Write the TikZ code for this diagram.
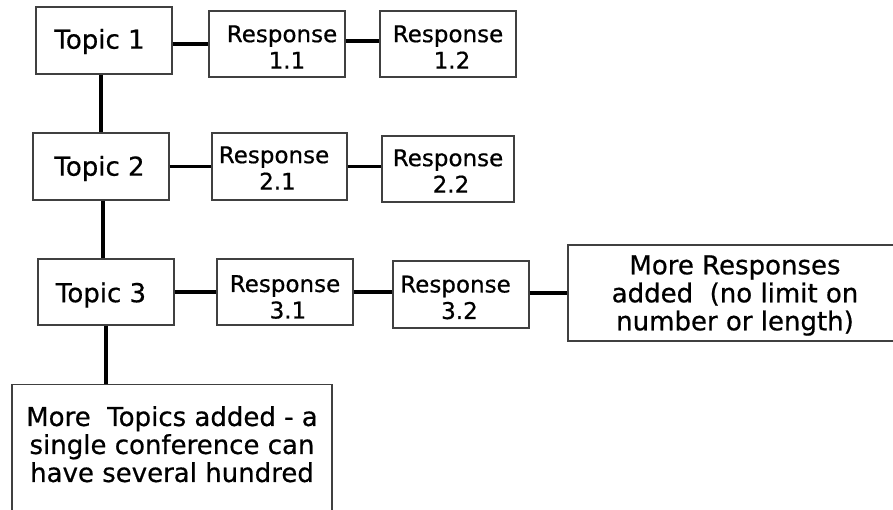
\documentclass[tikz,border=0pt]{standalone}
\usepackage{fontspec}
\setmainfont{DejaVu Sans}[FakeBold=0.6]
\begin{document}
\begin{tikzpicture}[x=1pt,y=-1pt,
  box/.style={draw=black!75, line width=1.2pt, inner sep=0pt},
  topic/.style={box, minimum width=136pt, minimum height=67pt},
  resp/.style={box, minimum width=136pt, minimum height=66pt},
  tf/.style={align=center, inner sep=0pt, font=\fontsize{26}{30}\selectfont},
  rf/.style={align=center, inner sep=0pt, font=\fontsize{23}{26.5}\selectfont},
  bf/.style={align=center, inner sep=0pt, font=\fontsize{26}{28}\selectfont},
  link/.style={line width=3.4pt, black}]
\clip (0,0) rectangle (893,510);
\fill[white] (0,0) rectangle (893,510);
\node[topic, label={[tf, yshift=-1pt]center:{Topic 1\hspace*{9pt}}}] (t1) at (104,40.5) {};
\node[resp, label={[rf, yshift=-3pt]center:{\hspace*{10pt}Response\\\hspace*{20pt}1.1}}] (r11) at (277,44) {};
\node[resp, label={[rf, yshift=-3pt]center:{Response\\\hspace*{8pt}1.2}}] (r12) at (448,44) {};
\node[topic, label={[tf, yshift=-2pt]center:{Topic 2\hspace*{3pt}}}] (t2) at (101,166.5) {};
\node[resp, minimum width=135pt, minimum height=67pt, label={[rf, yshift=-1.5pt]center:{Response\hspace*{11pt}\\2.1\hspace*{4pt}}}] (r21) at (279.5,166.5) {};
\node[resp, minimum width=132pt, label={[rf, yshift=-2pt]center:{Response\\\hspace*{6pt}2.2}}] (r22) at (448,169) {};
\node[topic, minimum height=66pt, label={[tf, yshift=-3pt]center:{Topic 3\hspace*{10pt}}}] (t3) at (106,292) {};
\node[resp, label={[rf, yshift=-5pt]center:{Response\\\hspace*{6pt}3.1}}] (r31) at (285,292) {};
\node[resp, minimum height=67pt, label={[rf, yshift=-3pt]center:{Response\hspace*{11pt}\\3.2\hspace*{3pt}}}] (r32) at (461,294.5) {};
\node[box, minimum width=334pt, minimum height=96pt,
  label={[bf, yshift=-2.5pt]center:{More Responses\\added\ \ (no limit on\\number or length)}}] (mr) at (735,293) {};
\node[box, anchor=north, minimum width=320pt, minimum height=160pt,
  label={[bf, anchor=north, yshift=-22pt]north:{More\ \ Topics added - a\\single conference can\\have several hundred}}] (mt) at (172,384) {};
\draw[link] (t1.east |- r11.west) -- (r11.west);
\draw[link] ([yshift=3pt]r11.east) -- ([yshift=3pt]r12.west);
\draw[link] (t2.east) -- (t2.east -| r21.west);
\draw[link] (r21.east) -- (r21.east -| r22.west);
\draw[link] (t3.east) -- (r31.west);
\draw[link] (r31.east) -- (r31.east -| r32.west);
\draw[link] (mr.west -| r32.east) -- (mr.west);
\draw[link] (t1.south -| t2.north) -- (t2.north);
\draw[link] ([xshift=2pt]t2.south) -- ([xshift=2pt]t2.south |- t3.north);
\draw[link] (t3.south) -- (t3.south |- mt.north);
\end{tikzpicture}
\end{document}
